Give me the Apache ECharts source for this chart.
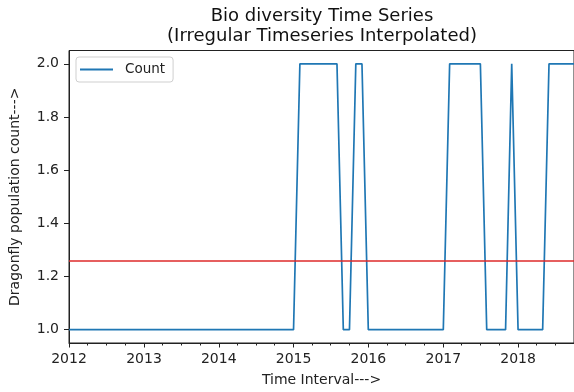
<!DOCTYPE html>
<html><head><meta charset="utf-8">
<script src="https://cdn.jsdelivr.net/npm/echarts@6/dist/echarts.min.js"></script>
<style>html,body{margin:0;padding:0;background:#fff}#c{width:574px;height:392px}</style>
</head><body><div id="c"></div>
<script>
// Monthly series, first month 2012-01
const firstMonth = [2012, 1];
const lastMonth = [2018, 10];
const counts = [
  1,1,1,1,1,1,1,1,1,1,1,1,   // 2012
  1,1,1,1,1,1,1,1,1,1,1,1,   // 2013
  1,1,1,1,1,1,1,1,1,1,1,1,   // 2014
  1,2,2,2,2,2,2,2,1,1,2,2,   // 2015
  1,1,1,1,1,1,1,1,1,1,1,1,   // 2016
  1,2,2,2,2,2,2,1,1,1,1,2,   // 2017
  1,1,1,1,1,2,2,2,2,2        // 2018
];
const yTicks = [1.0, 1.2, 1.4, 1.6, 1.8, 2.0];
const xYears = [2012, 2013, 2014, 2015, 2016, 2017, 2018];
const quarterMonths = [1, 4, 7, 10];

function ts(y, m) { return Date.UTC(y, m - 1, 1); }
const dates = counts.map((_, i) => {
  const t = firstMonth[1] - 1 + i;
  return ts(firstMonth[0] + Math.floor(t / 12), (t % 12) + 1);
});
const majorTicks = xYears.map(y => ts(y, 1));
const minorTicks = [];
xYears.forEach(y => quarterMonths.forEach(m => {
  const v = ts(y, m);
  if (m !== 1 && v <= ts(lastMonth[0], lastMonth[1])) minorTicks.push(v);
}));

const FONT = 'DejaVu Sans';
const INK = '#222';
const xMin = ts(firstMonth[0], firstMonth[1]);
const xMax = ts(lastMonth[0], lastMonth[1]);
const chart = echarts.init(document.getElementById('c'), null, {renderer: 'canvas'});
chart.setOption({
  animation: false,
  backgroundColor: '#fff',
  graphic: [{
    type: 'text', x: 322, y: 6,
    style: {
      text: 'Bio diversity Time Series\n(Irregular Timeseries Interpolated)',
      textAlign: 'center', fill: '#111', font: '18px "DejaVu Sans"', lineHeight: 20.5
    }
  }],
  grid: {
    left: 68, top: 50.5, width: 509.5, height: 297,
    show: true, borderColor: INK, borderWidth: 1, backgroundColor: 'transparent'
  },
  legend: {
    data: [{name: 'Count', icon: 'rect'}], left: 76, top: 57, orient: 'vertical',
    itemWidth: 33, itemHeight: 2,
    padding: [4, 8, 4, 4],
    borderColor: '#cfcfcf', borderWidth: 1, borderRadius: 3,
    backgroundColor: 'rgba(255,255,255,0.8)',
    textStyle: {fontFamily: FONT, fontSize: 13.5, lineHeight: 17, color: INK, padding: [0, 0, 0, 7]}
  },
  xAxis: [{
    type: 'value', position: 'bottom', min: xMin, max: xMax,
    axisLine: {show: true, lineStyle: {color: INK, width: 1}},
    axisTick: {show: true, customValues: majorTicks, length: 4.5, lineStyle: {color: INK}},
    axisLabel: {
      customValues: majorTicks, margin: 9, fontFamily: FONT, fontSize: 14, color: INK,
      formatter: v => String(new Date(v).getUTCFullYear())
    },
    splitLine: {show: false},
    name: 'Time Interval--->', nameLocation: 'middle', nameGap: 30,
    nameTextStyle: {fontFamily: FONT, fontSize: 14, color: INK}
  }, {
    type: 'value', position: 'bottom', min: xMin, max: xMax,
    axisLine: {show: false},
    axisTick: {show: true, customValues: minorTicks, length: 2.5, lineStyle: {color: INK}},
    axisLabel: {show: false},
    splitLine: {show: false}
  }],
  yAxis: {
    type: 'value', min: 0.95, max: 2.05,
    axisLine: {show: true, lineStyle: {color: INK, width: 1}},
    axisTick: {show: true, customValues: yTicks, length: 5, lineStyle: {color: INK}},
    axisLabel: {
      customValues: yTicks, margin: 10, fontFamily: FONT, fontSize: 14, color: INK,
      formatter: v => Number(v).toFixed(1)
    },
    splitLine: {show: false},
    name: 'Dragonfly population count--->', nameLocation: 'middle', nameGap: 47,
    nameTextStyle: {fontFamily: FONT, fontSize: 14, color: INK}
  },
  series: [{
    name: 'Count', type: 'line', xAxisIndex: 0,
    data: dates.map((d, i) => [d, counts[i]]),
    symbol: 'none', showSymbol: false,
    lineStyle: {color: '#1f77b4', width: 1.7},
    itemStyle: {color: '#1f77b4'},
    markLine: {
      silent: true, symbol: 'none', label: {show: false},
      lineStyle: {color: '#de2a2a', width: 1.7, type: 'solid'},
      data: [{type: 'average'}]
    }
  }]
});
</script></body></html>
